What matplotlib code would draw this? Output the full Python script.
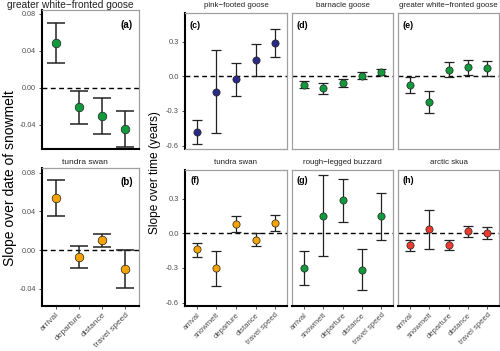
import matplotlib
matplotlib.use("Agg")
import matplotlib.pyplot as plt
from matplotlib.ticker import FixedLocator, FormatStrFormatter

plt.rcParams["font.family"] = ["Liberation Sans", "DejaVu Sans"]
plt.rcParams["axes.unicode_minus"] = False

# ---- data ----
vars_snow = ["arrival", "departure", "distance", "travel speed"]
vars_time = ["arrival", "snowmelt", "departure", "distance", "travel speed"]

# slope over date of snowmelt: estimate, lower, upper
gwfg_snow_est = [0.048, -0.021, -0.030, -0.044]
gwfg_snow_lo = [0.027, -0.039, -0.050, -0.064]
gwfg_snow_hi = [0.070, -0.003, -0.011, -0.025]

tusw_snow_est = [0.054, -0.007, 0.010, -0.020]
tusw_snow_lo = [0.035, -0.019, 0.003, -0.039]
tusw_snow_hi = [0.073, 0.004, 0.017, 0.000]

# slope over time (years)
pfg_est = [-0.482, -0.134, -0.023, 0.139, 0.287]
pfg_lo = [-0.584, -0.488, -0.166, 0.000, 0.166]
pfg_hi = [-0.375, 0.229, 0.119, 0.279, 0.409]

barn_est = [-0.072, -0.104, -0.058, 0.006, 0.040]
barn_lo = [-0.101, -0.153, -0.089, -0.020, 0.009]
barn_hi = [-0.037, -0.058, -0.026, 0.035, 0.066]

gwfg_est = [-0.078, -0.222, 0.058, 0.081, 0.069]
gwfg_lo = [-0.147, -0.317, -0.003, 0.014, 0.000]
gwfg_hi = [-0.006, -0.127, 0.121, 0.144, 0.130]

tusw_est = [-0.138, -0.303, 0.081, -0.058, 0.087]
tusw_lo = [-0.202, -0.456, 0.012, -0.110, 0.017]
tusw_hi = [-0.081, -0.150, 0.153, 0.000, 0.156]

rlb_est = [-0.300, 0.153, 0.288, -0.317, 0.147]
rlb_lo = [-0.447, -0.196, 0.095, -0.493, -0.058]
rlb_hi = [-0.153, 0.505, 0.473, -0.136, 0.352]

arsk_est = [-0.104, 0.035, -0.098, 0.017, 0.003]
arsk_lo = [-0.156, -0.133, -0.141, -0.029, -0.052]
arsk_hi = [-0.058, 0.199, -0.055, 0.066, 0.052]

GREEN = "#12993C"
NAVY = "#2B2A86"
ORANGE = "#F5A300"
RED = "#EC3A2E"
TICKC = "#4D4D4D"

W, H = 500, 351
fig = plt.figure(figsize=(5.0, 3.51), dpi=100)


def px_axes(x0, x1, y0, y1):
    return fig.add_axes([x0 / W, 1 - y1 / H, (x1 - x0) / W, (y1 - y0) / H])


def draw(ax, labels, est, lo, hi, color, style, ylim, yticks, fmt,
         left_black, bottom_black, show_y, show_x):
    x = list(range(1, len(labels) + 1))
    yerr = [[e - l for e, l in zip(est, lo)], [h - e for e, h in zip(est, hi)]]
    ax.axhline(0, color="black", ls=(0, (3.5, 2.5)), lw=1.0, zorder=1)
    ax.errorbar(x, est, yerr=yerr, fmt="none", ecolor="#222222",
                elinewidth=style["lw"], capsize=style["cap"],
                capthick=style["lw"], zorder=2)
    ax.plot(x, est, "o", ms=style["ms"], mfc=color, mec="#222222",
            mew=0.5, zorder=3)
    ax.set_xlim(0.4, len(labels) + 0.6)
    ax.set_ylim(*ylim)
    ax.yaxis.set_major_locator(FixedLocator(yticks))
    ax.yaxis.set_major_formatter(FormatStrFormatter(fmt))
    ax.set_xticks(x)
    for side in ["top", "right", "left", "bottom"]:
        ax.spines[side].set_color("#A0A0A0")
        ax.spines[side].set_linewidth(0.9)
    if left_black:
        ax.spines["left"].set_color("black")
        ax.spines["left"].set_linewidth(1.5)
    if bottom_black:
        ax.spines["bottom"].set_color("black")
        ax.spines["bottom"].set_linewidth(1.5)
    ax.tick_params(axis="y", length=2.5, width=0.6, color="#333333",
                   labelsize=style["tick"], labelcolor=TICKC, pad=2,
                   left=show_y, labelleft=show_y)
    ax.tick_params(axis="x", length=2.5, width=0.6, color="#333333",
                   labelsize=style["xtick"], labelcolor=TICKC, pad=1.5,
                   bottom=show_x, labelbottom=show_x)
    if show_x:
        ax.set_xticklabels(labels, rotation=45, ha="right", rotation_mode="anchor")


def label(ax, title, title_x, title_y, tsize, letter, lx, ly, lsize):
    fig.text(title_x / W, 1 - title_y / H, title, ha="center", va="center",
             fontsize=tsize, color="#222222")
    ax.text(lx, ly, letter, transform=ax.transAxes, ha="center",
            va="center", fontsize=lsize, fontweight="bold")


left_style = {"ms": 6.2, "cap": 6.5, "lw": 1.1, "tick": 5.2, "xtick": 6.0}
right_style = {"ms": 5.2, "cap": 3.6, "lw": 0.9, "tick": 5.4, "xtick": 5.5}

snow_ylim_a = (-0.066, 0.084)
snow_ylim_b = (-0.058, 0.085)
snow_ticks = [-0.04, 0.00, 0.04, 0.08]
time_ylim = (-0.63, 0.55)
time_ticks = [-0.6, -0.3, 0.0, 0.3]

# ---- left block: slopes over snowmelt ----
ax_a = px_axes(42, 139, 10, 149)
draw(ax_a, vars_snow, gwfg_snow_est, gwfg_snow_lo, gwfg_snow_hi, GREEN,
     left_style, snow_ylim_a, snow_ticks, "%.2f", True, True, True, False)
label(ax_a, "greater white\u2212fronted goose", 70, 5.5, 7.3, "(a)", 0.876, 0.89, 7)

ax_b = px_axes(42, 139, 168, 306)
draw(ax_b, vars_snow, tusw_snow_est, tusw_snow_lo, tusw_snow_hi, ORANGE,
     left_style, snow_ylim_b, snow_ticks, "%.2f", True, True, True, True)
label(ax_b, "tundra swan", 85, 162.5, 6.0, "(b)", 0.876, 0.90, 7)
ax_b.set_ylabel("Slope over date of snowmelt", fontsize=10)
ax_b.yaxis.set_label_coords(-0.26, 0.93)

# ---- right block: slopes over time ----
top = (13, 149)
bot = (170, 306)
cols = [(185, 287), (292, 393), (398, 499)]
TS = 5.7
LS = 6.4

ax_c = px_axes(cols[0][0], cols[0][1], *top)
draw(ax_c, vars_time, pfg_est, pfg_lo, pfg_hi, NAVY, right_style,
     time_ylim, time_ticks, "%.1f", True, False, True, False)
label(ax_c, "pink\u2212footed goose", 236, 5.5, TS, "(c)", 0.10, 0.91, LS)

ax_d = px_axes(cols[1][0], cols[1][1], *top)
draw(ax_d, vars_time, barn_est, barn_lo, barn_hi, GREEN, right_style,
     time_ylim, time_ticks, "%.1f", False, False, False, False)
label(ax_d, "barnacle goose", 342.5, 5.5, TS, "(d)", 0.10, 0.91, LS)

ax_e = px_axes(cols[2][0], cols[2][1], *top)
draw(ax_e, vars_time, gwfg_est, gwfg_lo, gwfg_hi, GREEN, right_style,
     time_ylim, time_ticks, "%.1f", False, False, False, False)
label(ax_e, "greater white\u2212fronted goose", 448.5, 5.5, TS, "(e)", 0.10, 0.91, LS)

ax_f = px_axes(cols[0][0], cols[0][1], *bot)
draw(ax_f, vars_time, tusw_est, tusw_lo, tusw_hi, ORANGE, right_style,
     time_ylim, time_ticks, "%.1f", True, True, True, True)
label(ax_f, "tundra swan", 236, 162.5, TS, "(f)", 0.10, 0.92, LS)

ax_g = px_axes(cols[1][0], cols[1][1], *bot)
draw(ax_g, vars_time, rlb_est, rlb_lo, rlb_hi, GREEN, right_style,
     time_ylim, time_ticks, "%.1f", False, True, False, True)
label(ax_g, "rough\u2212legged buzzard", 342.5, 162.5, TS, "(g)", 0.10, 0.92, LS)

ax_h = px_axes(cols[2][0], cols[2][1], *bot)
draw(ax_h, vars_time, arsk_est, arsk_lo, arsk_hi, RED, right_style,
     time_ylim, time_ticks, "%.1f", False, True, False, True)
label(ax_h, "arctic skua", 448.5, 162.5, TS, "(h)", 0.10, 0.92, LS)

ax_f.set_ylabel("Slope over time (years)", fontsize=8.6)
ax_f.yaxis.set_label_coords(-0.235, 0.978)

fig.savefig("out.png", dpi=100)
